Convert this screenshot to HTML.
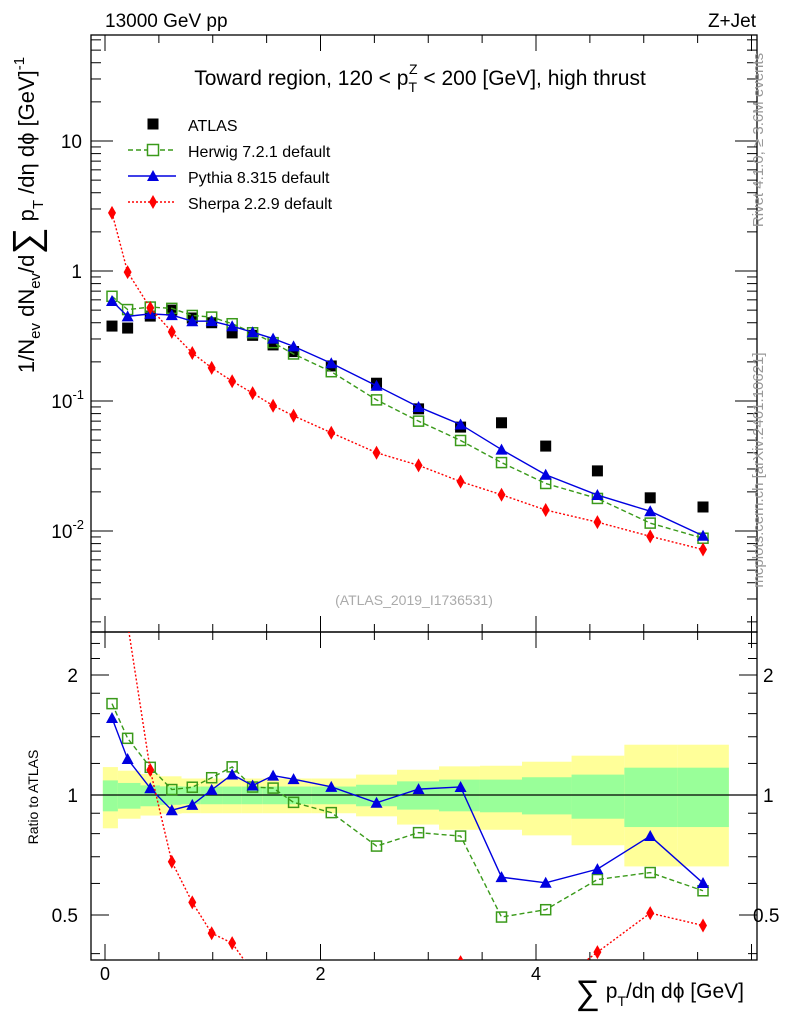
<!DOCTYPE html>
<html><head><meta charset="utf-8"><style>
body{margin:0;background:#fff}
svg{display:block;font-family:"Liberation Sans",sans-serif}
</style></head><body>
<svg id="c" width="786" height="1024" viewBox="0 0 786 1024">
<g id="bands"></g>
<g id="axes"></g>
<g id="series"></g>
<text x="105" y="27" font-size="19">13000 GeV pp</text>
<text x="756" y="27" font-size="19" text-anchor="end">Z+Jet</text>
<text x="420" y="85" font-size="21" text-anchor="middle">Toward region, 120 &lt; p<tspan font-size="14" dy="7">T</tspan><tspan font-size="14" dx="-8" dy="-18">Z</tspan><tspan dy="11"> &lt; 200 [GeV], high thrust</tspan></text>
<text x="414" y="605" font-size="14" fill="#aaa" text-anchor="middle">(ATLAS_2019_I1736531)</text>
<text transform="translate(763,140) rotate(-90)" font-size="15" fill="#999" text-anchor="middle">Rivet 4.1.0, ≥ 3.6M events</text>
<text transform="translate(763,470) rotate(-90)" font-size="15" fill="#999" text-anchor="middle">mcplots.cern.ch [arXiv:2401.10621]</text>
<text transform="translate(34,215) rotate(-90)" font-size="22" text-anchor="middle">1/N<tspan font-size="15" dy="6">ev</tspan><tspan dy="-6"> dN</tspan><tspan font-size="15" dy="6">ev</tspan><tspan dy="-6">/d</tspan><tspan font-size="38" dy="5">∑</tspan><tspan dy="-5"> p</tspan><tspan font-size="15" dy="9">T</tspan><tspan dy="-9"> /dη dϕ  [GeV]</tspan><tspan font-size="15" dy="-10">-1</tspan></text>
<text transform="translate(38,797) rotate(-90)" font-size="14" text-anchor="middle">Ratio to ATLAS</text>
<text x="744" y="998" font-size="21" text-anchor="end"><tspan font-size="34" dy="6">∑</tspan><tspan dy="-6"> p</tspan><tspan font-size="14" dy="8">T</tspan><tspan dy="-8">/dη dϕ [GeV]</tspan></text>
<g>
<rect x="147.5" y="118.5" width="11" height="11" fill="#000"/>
<text x="188" y="131" font-size="16">ATLAS</text>
<line x1="128" y1="150" x2="176" y2="150" stroke="#3a9a1a" stroke-width="1.4" stroke-dasharray="5,3"/>
<rect x="147.5" y="144.5" width="11" height="11" fill="#fff" stroke="#3a9a1a" stroke-width="1.5"/>
<text x="188" y="157" font-size="16">Herwig 7.2.1 default</text>
<line x1="128" y1="176" x2="176" y2="176" stroke="#0000e0" stroke-width="1.4"/>
<path d="M147,181 L153,170 L159,181 Z" fill="#0000e0"/>
<text x="188" y="183" font-size="16">Pythia 8.315 default</text>
<line x1="128" y1="202" x2="176" y2="202" stroke="#f00" stroke-width="1.4" stroke-dasharray="2,2"/>
<path d="M153,195 L157,202 L153,209 L149,202 Z" fill="#f00"/>
<text x="188" y="209" font-size="16">Sherpa 2.2.9 default</text>
</g>
</svg>
<script>
const xVals=[0.065,0.21,0.42,0.62,0.81,0.99,1.18,1.37,1.56,1.75,2.1,2.52,2.91,3.3,3.68,4.09,4.57,5.06,5.55];
const atlas=[0.377,0.364,0.45,0.50,0.435,0.40,0.334,0.32,0.27,0.24,0.186,0.137,0.087,0.063,0.068,0.045,0.029,0.018,0.0153];
const herwig=[0.639,0.505,0.528,0.516,0.455,0.442,0.393,0.335,0.281,0.230,0.168,0.102,0.070,0.0497,0.0336,0.0232,0.0178,0.0115,0.0088];
const pythia=[0.588,0.448,0.468,0.458,0.411,0.412,0.376,0.338,0.302,0.263,0.195,0.131,0.090,0.066,0.0423,0.0271,0.0189,0.0142,0.0092];
const sherpa=[2.8,0.98,0.52,0.34,0.234,0.18,0.142,0.115,0.092,0.077,0.057,0.040,0.032,0.024,0.019,0.0145,0.0117,0.0091,0.0072];
const binEdges=[-0.02,0.12,0.33,0.51,0.71,0.89,1.09,1.27,1.46,1.68,1.92,2.33,2.71,3.1,3.48,3.87,4.33,4.82,5.31,5.79];
const yelHi=[1.175,1.151,1.129,1.114,1.1,1.1,1.1,1.1,1.1,1.1,1.1,1.125,1.157,1.18,1.184,1.212,1.255,1.337,1.337];
const yelLo=[0.825,0.872,0.888,0.898,0.9,0.9,0.9,0.9,0.9,0.9,0.9,0.884,0.843,0.818,0.818,0.792,0.748,0.662,0.662];
const grnHi=[1.088,1.072,1.057,1.051,1.05,1.05,1.05,1.05,1.05,1.05,1.05,1.061,1.082,1.093,1.093,1.108,1.125,1.171,1.171];
const grnLo=[0.91,0.924,0.937,0.945,0.948,0.948,0.948,0.948,0.948,0.948,0.948,0.937,0.919,0.91,0.905,0.894,0.872,0.831,0.831];
const xTicks=[0,2,4];
const mainTicks=[["10",1],["1",0],["10","-1"],["10","-2"]];

const NS="http://www.w3.org/2000/svg";
const L=91,R=757,T=35,MB=632,RB=960;
const X=v=>105+107.75*v;
const Y=v=>271-130*Math.log10(v);
const RY=v=>795-120*Math.log2(v);
function mk(p,tag,at){const e=document.createElementNS(NS,tag);for(const k in at)e.setAttribute(k,at[k]);p.appendChild(e);return e;}
const axes=document.getElementById('axes'),ser=document.getElementById('series'),bands=document.getElementById('bands');
for(let i=0;i<yelHi.length;i++){
  const x0=X(binEdges[i]),x1=X(binEdges[i+1]);
  const y=mk(bands,'rect',{x:x0,y:RY(yelHi[i]),width:x1-x0,height:RY(yelLo[i])-RY(yelHi[i]),fill:'#ffff99'});
  
  
  const g=mk(bands,'rect',{x:x0,y:RY(grnHi[i]),width:x1-x0,height:RY(grnLo[i])-RY(grnHi[i]),fill:'#99ff99'});
  
  
}
mk(axes,'line',{x1:L,x2:R,y1:RY(1),y2:RY(1),stroke:'#000','stroke-width':1.3});
mk(axes,'rect',{x:L,y:T,width:R-L,height:MB-T,fill:'none',stroke:'#000','stroke-width':1.3});
mk(axes,'rect',{x:L,y:MB,width:R-L,height:RB-MB,fill:'none',stroke:'#000','stroke-width':1.3});
for(let v=0;v<=6;v+=0.5){const x=X(v);if(x>R)break;const maj=(v%2===0);const l=maj?16:8;
  [[T,1],[MB,-1],[MB,1],[RB,-1]].forEach(([y,d])=>mk(axes,'line',{x1:x,x2:x,y1:y,y2:y+d*l,stroke:'#000'}));}
xTicks.forEach(v=>{const t=mk(axes,'text',{x:X(v),y:980,'font-size':18,'text-anchor':'middle'});t.textContent=v;
  
  });
for(let e=-3;e<=1;e++)for(let m=1;m<10;m++){const v=m*Math.pow(10,e);const y=Y(v);if(y<T||y>MB)continue;const l=m===1?22:10;
  mk(axes,'line',{x1:L,x2:L+l,y1:y,y2:y,stroke:'#000'});mk(axes,'line',{x1:R,x2:R-l,y1:y,y2:y,stroke:'#000'});}
mainTicks.forEach(([b,e])=>{const v=Math.pow(10,+e);const t=mk(axes,'text',{x:82,y:Y(v)+7,'font-size':19,'text-anchor':'end'});
  
  
  if(b==="10"&&e!==1){t.textContent='10';const s=mk(t,'tspan',{dy:-9,'font-size':13});s.textContent=e;t.setAttribute('x',84);}else t.textContent=b;});
[0.4,0.5,0.6,0.7,0.8,0.9,1,1.2,1.4,1.6,1.8,2,2.2,2.4].forEach(v=>{const y=RY(v);const maj=[0.5,1,2].includes(v);const l=maj?18:9;
  mk(axes,'line',{x1:L,x2:L+l,y1:y,y2:y,stroke:'#000'});mk(axes,'line',{x1:R,x2:R-l,y1:y,y2:y,stroke:'#000'});});
[["2",2],["1",1],["0.5",0.5]].forEach(([s,v])=>{[[78,'end'],[v===0.5?753:763,'start']].forEach(([x,a])=>{const t=mk(axes,'text',{x:x,y:RY(v)+7,'font-size':19,'text-anchor':a});t.textContent=s;
  
  });});
const clipM=mk(document.getElementById('c'),'clipPath',{id:'cm'});mk(clipM,'rect',{x:L,y:T,width:R-L,height:MB-T});
const clipR=mk(document.getElementById('c'),'clipPath',{id:'cr'});mk(clipR,'rect',{x:L,y:MB,width:R-L,height:RB-MB});
const gM=mk(ser,'g',{'clip-path':'url(#cm)'}),gR=mk(ser,'g',{'clip-path':'url(#cr)'});
function marker(g,type,x,y,col){
  if(type==='sq')return mk(g,'rect',{x:x-5.5,y:y-5.5,width:11,height:11,fill:'#000'});
  if(type==='osq')return mk(g,'rect',{x:x-5,y:y-5,width:10,height:10,fill:'none',stroke:col,'stroke-width':1.5});
  if(type==='tri')return mk(g,'path',{d:`M${x-6},${y+5}L${x},${y-6}L${x+6},${y+5}Z`,fill:col});
  return mk(g,'path',{d:`M${x},${y-7}L${x+4},${y}L${x},${y+7}L${x-4},${y}Z`,fill:col});
}
function draw(vals,type,col,dash,name){
  const pm=vals.map((v,i)=>[X(xVals[i]),Y(v)]);
  const rv=vals.map((v,i)=>v/atlas[i]);
  const pr=rv.map((v,i)=>[X(xVals[i]),RY(v)]);
  if(col){[[gM,pm],[gR,pr]].forEach(([g,p])=>{const l=mk(g,'polyline',{points:p.map(q=>q.join(',')).join(' '),fill:'none',stroke:col,'stroke-width':1.4});if(dash)l.setAttribute('stroke-dasharray',dash);
    
    });}
  pm.forEach(([x,y])=>{const m=marker(gM,type,x,y,col);
    
    });
  if(col)pr.forEach(([x,y])=>{const m=marker(gR,type,x,y,col);
    
    });
}
draw(atlas,'sq',null,null,'atlas');
draw(herwig,'osq','#3a9a1a','5,3','herwig');
draw(pythia,'tri','#0000e0',null,'pythia');
draw(sherpa,'dia','#f00','2,2','sherpa');
</script>
</body></html>
